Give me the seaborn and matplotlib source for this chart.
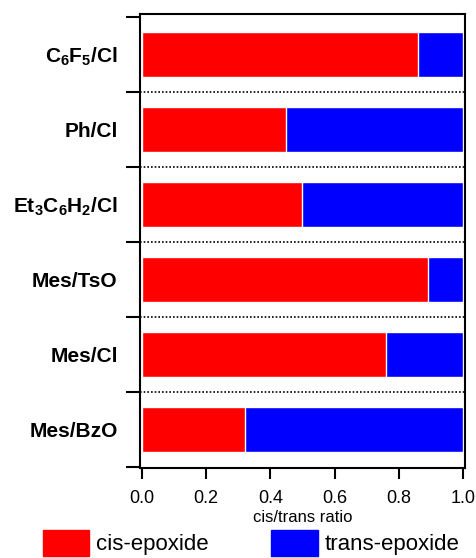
import pandas as pd
import numpy as np
import matplotlib
matplotlib.use('Agg')
import matplotlib.pyplot as plt
import matplotlib.patches as mpatches
import seaborn as sns

substrates = ['C$_6$F$_5$/Cl', 'Ph/Cl', 'Et$_3$C$_6$H$_2$/Cl', 'Mes/TsO', 'Mes/Cl', 'Mes/BzO']
cis_frac = [0.86, 0.45, 0.50, 0.89, 0.76, 0.32]
total = [1.0, 1.0, 1.0, 1.0, 1.0, 1.0]
legend_labels = ['cis-epoxide', 'trans-epoxide']
colors = ['#ff0000', '#0000ff']

sns.set_style('white')
plt.rcParams['font.family'] = ['Liberation Sans', 'DejaVu Sans']
plt.rcParams['text.color'] = 'black'
plt.rcParams['axes.labelcolor'] = 'black'
plt.rcParams['xtick.color'] = 'black'
plt.rcParams['ytick.color'] = 'black'
plt.rcParams['mathtext.fontset'] = 'custom'
plt.rcParams['mathtext.rm'] = 'Liberation Sans:bold'
plt.rcParams['mathtext.it'] = 'Liberation Sans:bold'
plt.rcParams['mathtext.bf'] = 'Liberation Sans:bold'
plt.rcParams['mathtext.default'] = 'rm'

df = pd.DataFrame({'substrate': substrates, 'cis': cis_frac, 'total': total})

fig = plt.figure(figsize=(4.76, 5.58), dpi=100)
ax = fig.add_axes([0.294, 0.161, 0.683, 0.814])

# trans part drawn as full bar, cis on top of it
sns.barplot(data=df, x='total', y='substrate', color=colors[1], width=0.6,
            saturation=1, ax=ax, orient='h')
sns.barplot(data=df, x='cis', y='substrate', color=colors[0], width=0.6,
            saturation=1, ax=ax, orient='h')

n = len(substrates)
for b in np.arange(0.5, n - 0.5, 1.0):
    ax.axhline(b, color='black', linestyle=(0, (1, 1.2)), linewidth=1.2, zorder=3)

ax.set_xlim(-0.006, 1.006)
ax.set_ylim(n - 0.5 + 0.01, -0.54)
ax.set_xticks([0.0, 0.2, 0.4, 0.6, 0.8, 1.0])
ax.set_xticklabels(['0.0', '0.2', '0.4', '0.6', '0.8', '1.0'])
ax.tick_params(axis='x', direction='out', length=8, width=1.5, labelsize=13,
               pad=8, bottom=True)
ax.set_yticks(range(n))
ax.set_yticklabels(substrates, fontweight='bold', fontsize=15)
ax.tick_params(axis='y', which='major', length=0, pad=16)
ax.set_yticks(np.arange(-0.5, n, 1.0), minor=True)
ax.tick_params(axis='y', which='minor', direction='out', length=10, width=1.5, left=True)
ax.set_xlabel('cis/trans ratio', fontsize=12, labelpad=2)
ax.set_ylabel('')
for s in ax.spines.values():
    s.set_visible(True)
    s.set_color('black')
    s.set_linewidth(1.5)

handles = [mpatches.Patch(color=c, label=l) for c, l in zip(colors, legend_labels)]
fig.legend(handles=handles, loc='upper center', bbox_to_anchor=(0.527, 0.05), ncol=2,
           frameon=False, fontsize=16, handlelength=2.1, handleheight=1.4,
           handletextpad=0.3, columnspacing=2.8, borderaxespad=0, borderpad=0)

fig.savefig('out.png', dpi=100)
